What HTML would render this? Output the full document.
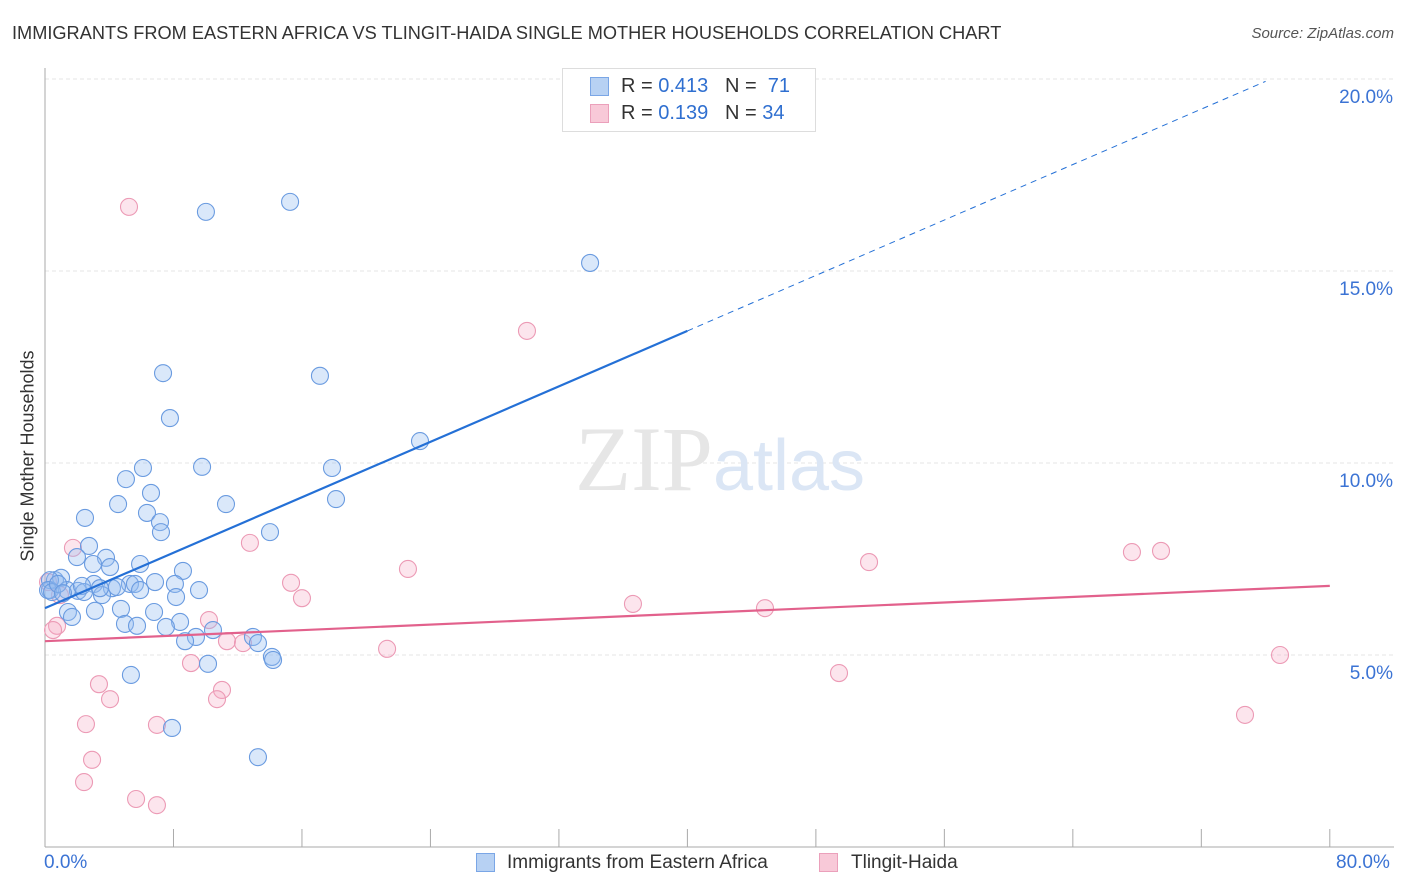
<!DOCTYPE html>
<html><head><meta charset="utf-8"><style>
body{margin:0;background:#fff;font-family:"Liberation Sans",sans-serif;}
#wrap{position:relative;width:1406px;height:892px;overflow:hidden;}
.t{position:absolute;white-space:nowrap;}
</style></head><body>
<div id="wrap">
<div class="t" style="left:12px;top:23px;font-size:18.2px;color:#333;">IMMIGRANTS FROM EASTERN AFRICA VS TLINGIT-HAIDA SINGLE MOTHER HOUSEHOLDS CORRELATION CHART</div>
<div class="t" style="right:12px;top:25px;font-size:15px;color:#555;font-style:italic;">Source: ZipAtlas.com</div>
<svg id="svg" width="1406" height="892" style="position:absolute;left:0;top:0"></svg>
</div>
<script>
const xTicks=[8,16,24,32,40,48,56,64,72,80];
const yTicks=[5,10,15,20];
const blueX=[],blueY=[],pinkX=[],pinkY=[];
const bluePx=[[290,202],[206,212],[590,263],[163,373],[320,376],[170,418],[420,441],[143,468],[202,467],[332,468],[126,479],[151,493],[336,499],[118,504],[226,504],[85,518],[147,513],[160,522],[161,532],[270,532],[89,546],[106,558],[77,557],[140,564],[110,567],[93,564],[183,571],[55,580],[61,578],[94,584],[130,584],[135,584],[155,582],[175,584],[50,590],[67,590],[78,591],[84,592],[112,588],[117,587],[199,590],[102,595],[176,597],[121,609],[154,612],[95,611],[68,612],[72,617],[125,624],[137,626],[180,622],[166,627],[213,630],[253,637],[196,637],[185,641],[258,643],[272,657],[273,660],[208,664],[131,675],[172,728],[258,757],[50,580],[48,590],[52,592],[58,584],[63,593],[100,588],[82,586],[140,590]];
const pinkPx=[[129,207],[527,331],[73,548],[250,543],[408,569],[869,562],[1132,552],[1161,551],[291,583],[302,598],[633,604],[765,608],[209,620],[57,626],[53,630],[227,641],[243,643],[387,649],[1280,655],[191,663],[839,673],[99,684],[222,690],[110,699],[217,699],[86,724],[157,725],[1245,715],[92,760],[84,782],[136,799],[157,805],[48,582],[60,595]];
bluePx.forEach(p=>{blueX.push(+((p[0]-45)/16.06).toFixed(2));blueY.push(+((847-p[1])/38.4).toFixed(2));});
pinkPx.forEach(p=>{pinkX.push(+((p[0]-45)/16.06).toFixed(2));pinkY.push(+((847-p[1])/38.4).toFixed(2));});
const blueTrend=[6.22,13.44];
const pinkTrend=[5.36,6.80];
const X=v=>45+v*16.06, Y=v=>847-v*38.4;
const svg=document.getElementById('svg'),NS='http://www.w3.org/2000/svg';
function mk(tag,at,parent){const e=document.createElementNS(NS,tag);for(const k in at)e.setAttribute(k,at[k]);(parent||svg).appendChild(e);return e;}
yTicks.forEach(v=>{
const l=mk('line',{x1:45,x2:1394,y1:Y(v),y2:Y(v),stroke:'#e4e4e4','stroke-dasharray':'4,3'});


const t=mk('text',{x:1393,y:Y(v)+24,'text-anchor':'end','font-size':19,fill:'#3b73d4','font-family':'Liberation Sans'});
t.textContent=v.toFixed(1)+'%';


});
const ax=mk('line',{x1:45,x2:45,y1:68,y2:847,stroke:'#aaa'});


const bx=mk('line',{x1:45,x2:1394,y1:847,y2:847,stroke:'#aaa'});


xTicks.forEach(v=>{
const l=mk('line',{x1:X(v),x2:X(v),y1:829,y2:847,stroke:'#aaa'});


});
const wm=mk('text',{x:720,y:490,'text-anchor':'middle','font-size':92,'font-family':'Liberation Serif',fill:'#e6e6e6'});
wm.innerHTML='ZIP<tspan fill="#dbe6f5" font-family="Liberation Sans" font-size="72">atlas</tspan>';


function dots(xs,ys,fill,stroke,name){xs.forEach((x,i)=>{
const c=mk('circle',{cx:X(x),cy:Y(ys[i]),r:8.5,fill:fill,stroke:stroke,'stroke-width':1.1});


});}
dots(pinkX,pinkY,'rgba(246,170,195,0.3)','#ec9ab5','tlingit-point');
dots(blueX,blueY,'rgba(150,190,240,0.35)','#6a9be0','eastern-africa-point');
const b1=mk('line',{x1:X(0),y1:Y(blueTrend[0]),x2:X(40),y2:Y(blueTrend[1]),stroke:'#2470d6','stroke-width':2.2});


const sl=(blueTrend[1]-blueTrend[0])/40;
const b2=mk('line',{x1:X(40),y1:Y(blueTrend[1]),x2:X(76),y2:Y(blueTrend[0]+sl*76),stroke:'#2470d6','stroke-width':1,'stroke-dasharray':'6,5'});


const p1=mk('line',{x1:X(0),y1:Y(pinkTrend[0]),x2:X(80),y2:Y(pinkTrend[1]),stroke:'#e2618c','stroke-width':2.2});


</script>
<div class="t" style="left:562px;top:68px;width:252px;height:62px;border:1px solid #ddd;background:#fff;">
<div style="position:absolute;left:27px;top:8px;width:19px;height:19px;background:#b7d1f3;border:1px solid #7aa6e6;box-sizing:border-box"></div>
<div class="t" style="left:58px;top:6px;font-size:20px;color:#333">R = <span style="color:#2f6fd0">0.413</span>&nbsp;&nbsp;&nbsp;N = &nbsp;<span style="color:#2f6fd0">71</span></div>
<div style="position:absolute;left:27px;top:35px;width:19px;height:19px;background:#f8c9d8;border:1px solid #eba0bb;box-sizing:border-box"></div>
<div class="t" style="left:58px;top:33px;font-size:20px;color:#333">R = <span style="color:#2f6fd0">0.139</span>&nbsp;&nbsp;&nbsp;N = <span style="color:#2f6fd0">34</span></div>
</div>
<div class="t" style="left:44px;top:852px;font-size:19px;color:#3b73d4">0.0%</div>
<div class="t" style="left:1336px;top:852px;font-size:19px;color:#3b73d4">80.0%</div>
<div class="t" style="left:476px;top:853px;width:19px;height:19px;background:#b7d1f3;border:1px solid #7aa6e6;box-sizing:border-box"></div>
<div class="t" style="left:507px;top:852px;font-size:19px;color:#333">Immigrants from Eastern Africa</div>
<div class="t" style="left:819px;top:853px;width:19px;height:19px;background:#f8c9d8;border:1px solid #eba0bb;box-sizing:border-box"></div>
<div class="t" style="left:851px;top:852px;font-size:19px;color:#333">Tlingit-Haida</div>
<div class="t" style="left:28px;top:456px;font-size:18px;color:#333;transform:translate(-50%,-50%) rotate(-90deg);">Single Mother Households</div>
</body></html>
